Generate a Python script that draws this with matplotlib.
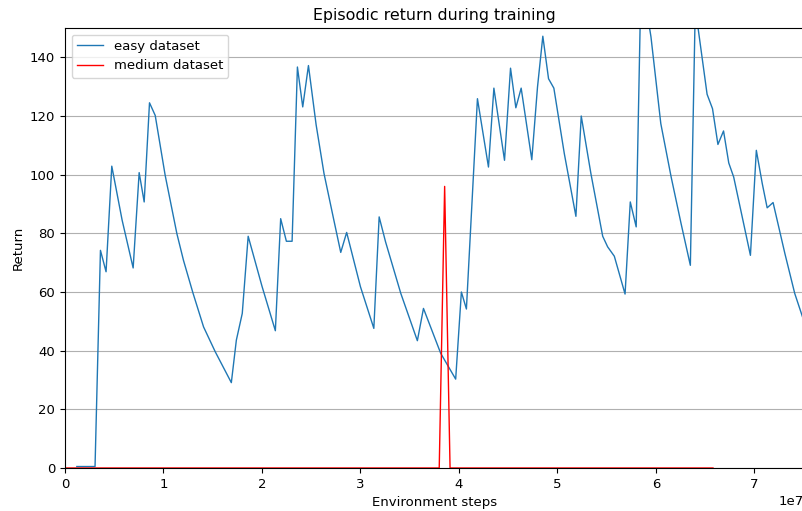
import matplotlib
matplotlib.use("Agg")
import matplotlib.pyplot as plt
import numpy as np

plt.rcParams['font.size'] = 9.5

# Data (x in units of 1e7 environment steps)
easy_x = [0.12, 0.305, 0.36, 0.417, 0.475, 0.58, 0.692, 0.753, 0.804, 0.858, 0.916,
          1.017, 1.136, 1.203, 1.299, 1.407, 1.526, 1.689, 1.74, 1.80, 1.86, 2.0, 2.136,
          2.19, 2.248, 2.306, 2.36, 2.414, 2.472, 2.55, 2.63, 2.73, 2.80, 2.86, 3.0,
          3.136, 3.19, 3.255, 3.41, 3.578, 3.64, 3.815, 3.967, 4.025, 4.076, 4.188,
          4.30, 4.355, 4.463, 4.524, 4.578, 4.632, 4.74, 4.798, 4.852, 4.91, 4.964,
          5.07, 5.188, 5.242, 5.34, 5.46, 5.51, 5.578, 5.687, 5.74, 5.80, 5.85, 5.95,
          6.05, 6.155, 6.256, 6.35, 6.40, 6.52, 6.575, 6.63, 6.687, 6.74, 6.79, 6.96,
          7.02, 7.08, 7.13, 7.19, 7.31, 7.41, 7.5, 7.55]
easy_y = [0.5, 0.5, 74.2, 66.9, 102.9, 84.5, 68.2, 100.7, 90.7, 124.5, 120.2,
          99.8, 79.9, 70.8, 59.7, 48.1, 39.6, 29.1, 43.6, 52.7, 79.0, 62.0, 46.8,
          85.0, 77.3, 77.3, 136.7, 123.1, 137.2, 117.0, 100.4, 84.5, 73.5, 80.3, 61.8,
          47.6, 85.6, 77.1, 59.5, 43.4, 54.4, 39.1, 30.3, 60.0, 54.2, 125.9,
          102.6, 129.5, 104.9, 136.3, 122.8, 129.5, 105.1, 129.9, 147.2, 132.7, 129.5,
          107.2, 85.8, 120.0, 100.4, 79.0, 75.4, 72.2, 59.3, 90.7, 82.2, 168.0, 147.0,
          117.4, 99.2, 83.3, 69.1, 157.0, 127.4, 122.5, 110.3, 114.9, 104.0, 99.2, 72.5,
          108.3, 97.0, 88.7, 90.5, 73.1, 59.5, 50.4, 46.0]

medium_x = [0.0, 3.80, 3.855, 3.91, 6.58]
medium_y = [0.0, 0.0, 96.0, 0.0, 0.0]

fig = plt.figure(figsize=(8.02, 5.11), dpi=100)
ax = fig.add_axes([65/802, 43/511, 1.002 - 65/802, (468-28)/511])

ax.plot(np.array(easy_x) * 1e7, easy_y, color='#1f77b4', linewidth=1, label='easy dataset')
ax.plot(np.array(medium_x) * 1e7, medium_y, color='red', linewidth=1, label='medium dataset')

ax.set_xlim(0, 7.5e7)
ax.set_ylim(0, 150)
ax.yaxis.grid(True, color='#b0b0b0', linewidth=0.8)
ax.set_axisbelow(True)
ax.set_title('Episodic return during training')
ax.set_xlabel('Environment steps')
ax.set_ylabel('Return')
ax.legend(loc='upper left')

fig.savefig('out.png', dpi=100)
